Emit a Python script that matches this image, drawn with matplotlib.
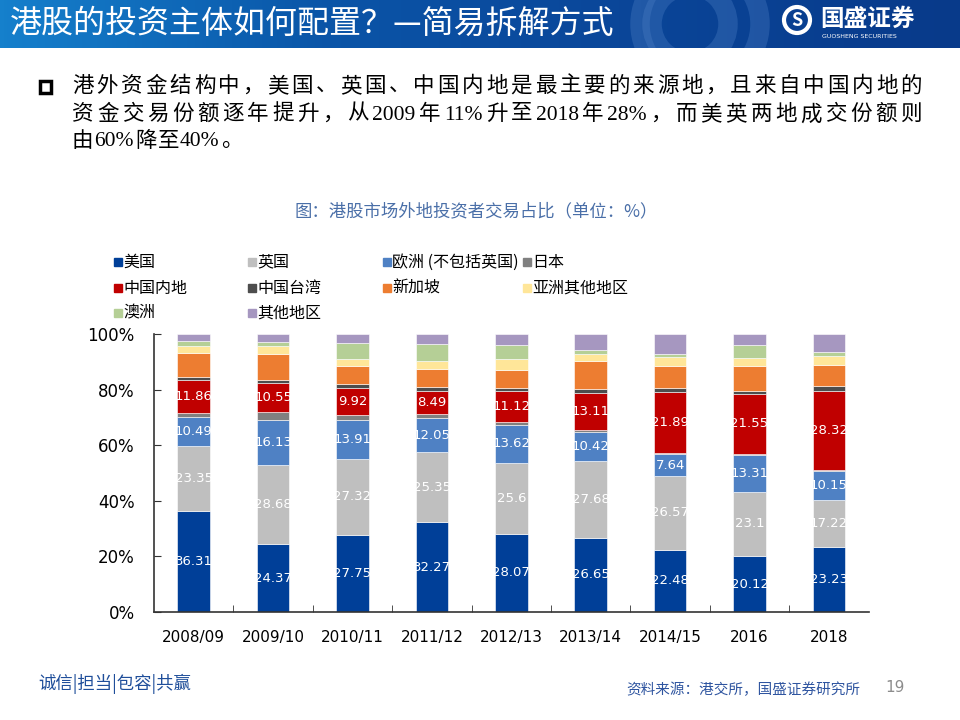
import numpy as np
import matplotlib.pyplot as plt
from matplotlib.colors import LinearSegmentedColormap
from matplotlib.patches import Rectangle, Circle

plt.rcParams['font.family'] = ['Noto Sans CJK SC', 'DejaVu Sans']

# 数据（单位：%）
years = ['2008/09', '2009/10', '2010/11', '2011/12', '2012/13', '2013/14', '2014/15', '2016', '2018']
us = [36.31, 24.37, 27.75, 32.27, 28.07, 26.65, 22.48, 20.12, 23.23]
uk = [23.35, 28.68, 27.32, 25.35, 25.6, 27.68, 26.57, 23.1, 17.22]
europe = [10.49, 16.13, 13.91, 12.05, 13.62, 10.42, 7.64, 13.31, 10.15]
japan = [1.6, 2.6, 1.8, 1.5, 1.0, 0.8, 0.6, 0.4, 0.6]
mainland = [11.86, 10.55, 9.92, 8.49, 11.12, 13.11, 21.89, 21.55, 28.32]
taiwan = [1.1, 1.2, 1.2, 1.2, 1.0, 1.4, 1.4, 1.1, 1.6]
singapore = [8.3, 9.2, 6.6, 6.7, 6.5, 10.4, 8.0, 8.8, 7.6]
asia_other = [2.6, 3.0, 2.6, 2.9, 4.2, 2.2, 3.2, 3.1, 3.2]
australia = [1.7, 1.5, 5.5, 6.0, 5.1, 1.5, 1.1, 4.5, 1.5]
others = [2.7, 2.8, 3.4, 3.5, 3.8, 5.8, 7.1, 4.0, 6.6]

names = ['美国', '英国', '欧洲 (不包括英国)', '日本', '中国内地', '中国台湾', '新加坡', '亚洲其他地区', '澳洲', '其他地区']
series = [us, uk, europe, japan, mainland, taiwan, singapore, asia_other, australia, others]
colors = ['#003f98', '#bfbfbf', '#4f81c4', '#808080', '#c00000', '#4d4d4d', '#ed7d31', '#ffe699', '#b5cf96', '#a697c0']
labeled = [0, 1, 2, 4]

fig = plt.figure(figsize=(9.6, 7.2), dpi=100)

# 顶部标题栏
hdr = fig.add_axes([0, 1 - 48 / 720, 1, 48 / 720])
cmap = LinearSegmentedColormap.from_list('hdr', ['#1580cc', '#0a55a8', '#0a4598', '#083a8a'])
hdr.imshow(np.linspace(0, 1, 256).reshape(1, -1), cmap=cmap, aspect='auto', extent=[0, 960, 48, 0])
for cx, r in [(700, 60), (690, 38)]:
    hdr.add_patch(Circle((cx, 24), r, fill=False, ec='#4d7fc4', lw=14, alpha=0.35))
hdr.set_xlim(0, 960)
hdr.set_ylim(48, 0)
hdr.axis('off')
hdr.text(10, 24, '港股的投资主体如何配置？—简易拆解方式', color='white', fontsize=23,
         va='center', ha='left')
hdr.add_patch(Circle((797, 20), 13, fill=False, ec='white', lw=3))
hdr.text(797, 20, 'S', color='white', fontsize=13, fontweight='bold', ha='center', va='center')
hdr.text(820, 19, '国盛证券', color='white', fontsize=17, fontweight='bold', va='center', ha='left')
hdr.text(822, 37, 'GUOSHENG SECURITIES', color='white', fontsize=4.5, va='center', ha='left',
         family='DejaVu Sans')

# 正文（两端对齐）
body = ['港外资金结构中，美国、英国、中国内地是最主要的来源地，且来自中国内地的',
        '资金交易份额逐年提升，从2009年11%升至2018年28%，而美英两地成交份额则',
        '由60%降至40%。']
body_y = [87, 115, 142]
fig.patches.append(Rectangle((40 / 960, 1 - 93 / 720), 11 / 960, 12 / 720, fill=False, ec='black',
                             lw=2.5, transform=fig.transFigure, figure=fig))
renderer = fig.canvas.get_renderer()
body_font = ['Liberation Serif', 'Noto Sans CJK SC']


def tokens(s):
    out = []
    for ch in s:
        if ord(ch) < 128 and out and ord(out[-1][-1]) < 128:
            out[-1] += ch
        else:
            out.append(ch)
    return out


for i, (line, y) in enumerate(zip(body, body_y)):
    toks = tokens(line)
    items = [fig.text(0, 1 - y / 720, t, fontsize=15.5, family=body_font, va='center') for t in toks]
    widths = [it.get_window_extent(renderer).width for it in items]
    if i < 2:
        gap = (922 - 72 - sum(widths)) / (len(toks) - 1)
    else:
        gap = 1
    x = 72
    for it, w in zip(items, widths):
        it.set_x(x / 960)
        x += w + gap

fig.text(476 / 960, 1 - 211 / 720, '图：港股市场外地投资者交易占比（单位：%）', fontsize=12.5,
         color='#4a6fa8', ha='center', va='center')

# 图例（手动排布）
leg_x = [114, 248, 383, 523]
leg_y = [262, 288, 313]
for k, (nm, c) in enumerate(zip(names, colors)):
    lx = leg_x[k % 4]
    ly = leg_y[k // 4]
    fig.patches.append(Rectangle((lx / 960, 1 - (ly + 4) / 720), 8 / 960, 8 / 720, color=c,
                                 transform=fig.transFigure, figure=fig))
    fig.text((lx + 9) / 960, 1 - ly / 720, nm, fontsize=11.5, va='center', ha='left')

# 堆积柱状图
ax = fig.add_axes([154 / 960, 108 / 720, 9 * 79.4 / 960, 278 / 720])
x = np.arange(len(years))
bottom = np.zeros(len(years))
for k, (vals, c) in enumerate(zip(series, colors)):
    vals = np.array(vals)
    ax.bar(x, vals, width=0.41, bottom=bottom, color=c, edgecolor='white', linewidth=0.4)
    if k in labeled:
        for xi, b, v in zip(x, bottom, vals):
            ax.text(xi, b + v / 2, f'{v:g}', color='white', fontsize=9.5, ha='center', va='center',
                    family='DejaVu Sans')
    bottom += vals

ax.set_xlim(-0.5, len(years) - 0.5)
ax.set_ylim(0, 100)
ax.set_yticks([0, 20, 40, 60, 80, 100])
ax.set_yticklabels([f'{v}%' for v in [0, 20, 40, 60, 80, 100]], family='DejaVu Sans', fontsize=12)
ax.set_xticks(x)
ax.set_xticklabels(years, family='DejaVu Sans', fontsize=11)
ax.set_xticks(np.arange(len(years) - 1) + 0.5, minor=True)
ax.tick_params(axis='x', which='major', length=0, pad=13)
ax.tick_params(axis='x', which='minor', direction='in', length=5, color='#333333')
ax.tick_params(axis='y', direction='in', length=5, color='#333333', pad=14)
for s in ['top', 'right']:
    ax.spines[s].set_visible(False)
for s in ['left', 'bottom']:
    ax.spines[s].set_color('#333333')
    ax.spines[s].set_linewidth(1.2)

# 页脚
fig.text(38 / 960, 1 - 684 / 720, '诚信|担当|包容|共赢', fontsize=12.5, color='#1f4e9a', va='center')
fig.text(860 / 960, 1 - 690 / 720, '资料来源：港交所，国盛证券研究所', fontsize=10.5, color='#2f55a0',
         style='italic', ha='right', va='center')
fig.text(895 / 960, 1 - 688 / 720, '19', fontsize=11, color='#8c8c8c', ha='center', va='center',
         family='DejaVu Sans')

fig.savefig('out.png', dpi=100)
